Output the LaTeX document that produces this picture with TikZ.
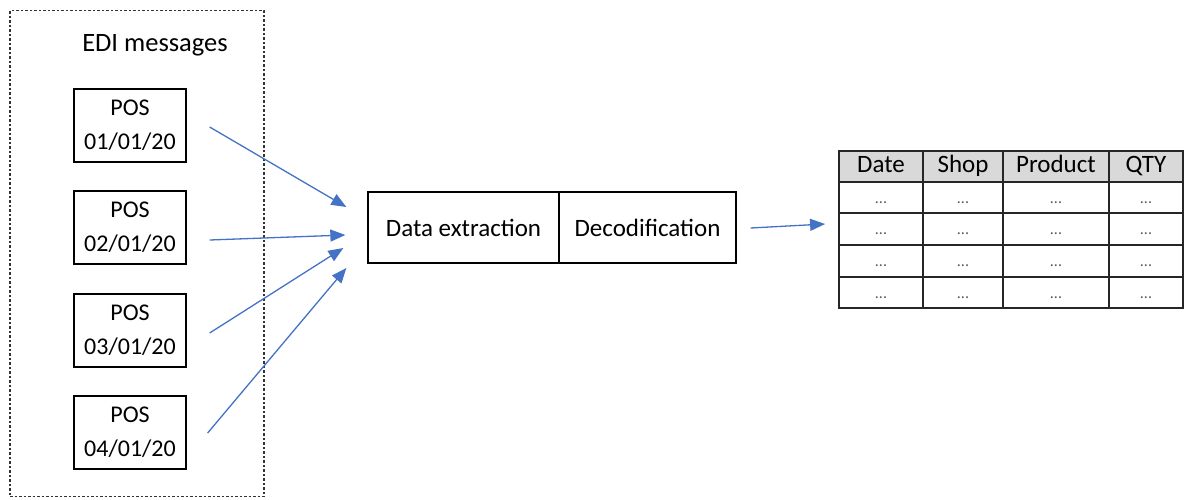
\documentclass[tikz,border=0pt]{standalone}
\usepackage{fontspec}
\setmainfont{Carlito}
\usetikzlibrary{arrows.meta}
\definecolor{arrblue}{HTML}{4472C4}
\definecolor{hdrgray}{HTML}{D9D9D9}
\begin{document}
\begin{tikzpicture}[x=1pt,y=-1pt,
  posbox/.style={draw, line width=1.3pt, minimum width=112pt, minimum height=73pt, align=center, inner sep=0pt, font=\fontsize{24}{34}\selectfont},
  procbox/.style={draw, line width=1.3pt, minimum height=71pt, inner sep=0pt, font=\fontsize{25}{30}\selectfont},
  cell/.style={draw=black!85, line width=1.8pt, inner sep=0pt},
  hdr/.style={cell, fill=hdrgray, font=\fontsize{25}{29}\selectfont, text height=17pt, text depth=5pt},
  dotstxt/.style={font=\fontsize{16}{18}\selectfont, text=black!65, inner sep=0pt},
  arr/.style={draw=arrblue, line width=1.3pt, -{Triangle[length=15pt, width=12pt]}},
  group/.style={draw=black!80, line width=1.1pt, dash pattern=on 2.5pt off 2pt}
]
\useasboundingbox (0,0) rectangle (1184,499);
% group box
\node[group, minimum width=254pt, minimum height=486pt, inner sep=0pt] (grp) at (137,253.5) {};
\node[font=\fontsize{26.5}{31}\selectfont] (title) at (155,45) {EDI messages};
% POS boxes
\node[posbox] (p1) at (130,125.5) {POS\\01/01/20};
\node[posbox] (p2) at (130,227.5) {POS\\02/01/20};
\node[posbox] (p3) at (130,330.5) {POS\\03/01/20};
\node[posbox] (p4) at (130,432.5) {POS\\04/01/20};
% processing
\node[procbox, minimum width=191pt] (ext) at (463.5,227.5) {Data extraction};
\node[procbox, minimum width=177pt] (dec) at (647.5,227.5) {Decodification};
% arrow endpoints
\coordinate (s1) at ([xshift=23pt,yshift=-1.5pt]p1.east);
\coordinate (s2) at ([xshift=23pt,yshift=-12.5pt]p2.east);
\coordinate (s3) at ([xshift=23pt,yshift=-2.5pt]p3.east);
\coordinate (s4) at ([xshift=21pt,yshift=-0.5pt]p4.east);
\coordinate (t1) at ([xshift=-21pt,yshift=20.5pt]ext.west);
\coordinate (t2) at ([xshift=-22pt,yshift=-7.5pt]ext.west);
\coordinate (t3) at ([xshift=-24pt,yshift=-20.5pt]ext.west);
\coordinate (t4) at ([xshift=-21pt,yshift=-40.5pt]ext.west);
\draw[arr] (s1) -- (t1);
\draw[arr] (s2) -- (t2);
\draw[arr] (s3) -- (t3);
\draw[arr] (s4) -- (t4);
% table
\foreach \c/\xl/\xr/\lab in {1/839/923/Date, 2/923/1003/Shop, 3/1003/1109/Product, 4/1109/1183/QTY} {
  \node[hdr, minimum width={\xr pt-\xl pt}, minimum height=31pt] (h\c) at ({(\xl+\xr)/2},166.5) {\lab};
  \foreach \r/\yt/\yb in {1/182/213, 2/213/245, 3/245/277, 4/277/308} {
    \node[cell, minimum width={\xr pt-\xl pt}, minimum height={\yb pt-\yt pt}] (c\c\r) at ({(\xl+\xr)/2},{(\yt+\yb)/2}) {};
    \node[dotstxt] (d\c\r) at ([yshift=-5pt]c\c\r.center) {...};
  }
}
\coordinate (o1) at ([xshift=14pt,yshift=-0.5pt]dec.east);
\coordinate (o2) at ([xshift=-13pt,yshift=5pt]c12.west);
\draw[arr] (o1) -- (o2);
\end{tikzpicture}
\end{document}
